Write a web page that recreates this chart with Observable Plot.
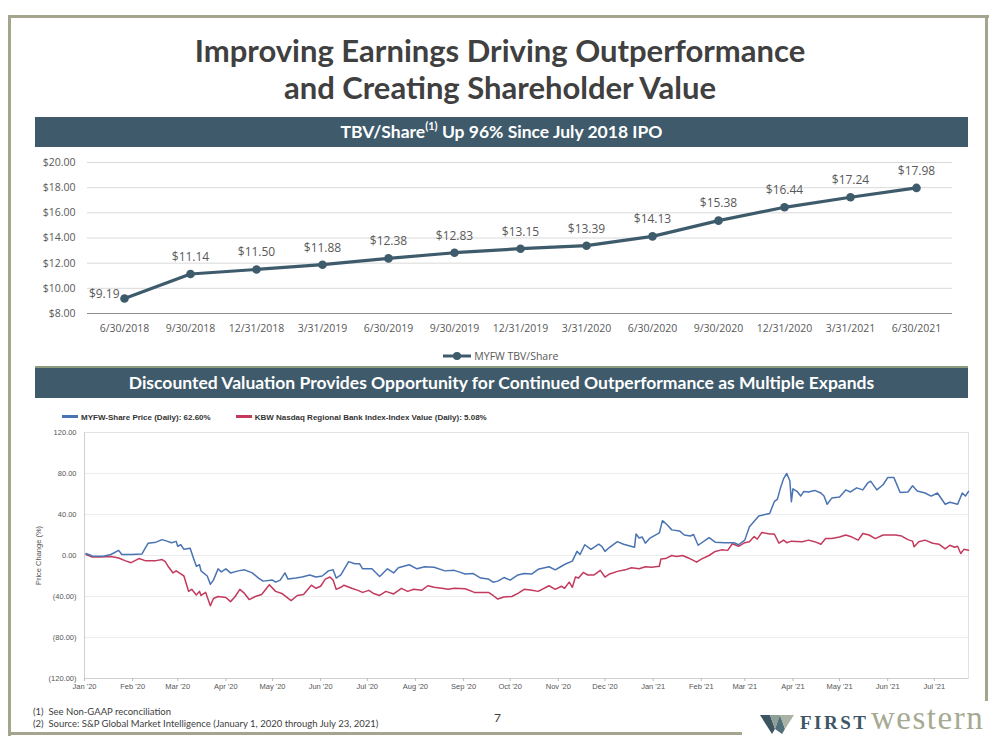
<!DOCTYPE html>
<html><head><meta charset="utf-8">
<script src="https://cdn.jsdelivr.net/npm/d3@7"></script>
<script src="https://cdn.jsdelivr.net/npm/@observablehq/plot@0.6"></script>
<style>
html,body{margin:0;padding:0;background:#fff;}
#slide{position:relative;width:1000px;height:750px;overflow:hidden;font-family:Lato,"Open Sans",sans-serif;background:#fff;}
.abs{position:absolute;}
.line{position:absolute;background:#a4a58c;}
.title{left:0;width:1000px;text-align:center;font-weight:700;font-size:31px;line-height:37px;color:#404040;top:32px;}
.banner{left:35px;width:933px;height:30px;background:#3e5a6b;color:#fff;font-weight:700;font-size:17.5px;line-height:30px;text-align:center;}
.banner sup{font-size:11px;line-height:0;position:relative;top:-1px;}
.leg1{top:349px;left:0;width:1000px;text-align:center;font-family:"Open Sans";font-size:10.5px;color:#595959;}
.leg2{top:413px;left:62px;font-family:"Liberation Sans",Arial,sans-serif;font-size:8px;font-weight:700;color:#333;white-space:nowrap;}
.sw{display:inline-block;width:16px;height:3px;vertical-align:middle;margin-right:3px;position:relative;top:-1px;}
.foot{left:33px;font-family:Lato,sans-serif;font-size:9.5px;color:#404040;white-space:nowrap;}
</style></head>
<body><div id="slide">
  <div class="line" style="left:8px;top:15px;width:981px;height:3px;"></div>
  <div class="line" style="left:8px;top:15px;width:3px;height:721px;"></div>
  <div class="line" style="left:985px;top:15px;width:3px;height:686px;"></div>
  <div class="line" style="left:8px;top:732px;width:734px;height:3px;"></div>

  <div class="abs title">Improving Earnings Driving Outperformance<br>and Creating Shareholder Value</div>
  <div class="abs banner" style="top:117px;">TBV/Share<sup>(1)</sup> Up 96% Since July 2018 IPO</div>
  <div id="top" class="abs" style="left:0;top:150px;"></div>
  <div class="abs leg1"><svg width="30" height="10" style="vertical-align:middle;position:relative;top:-1px;"><line x1="1" y1="5" x2="29" y2="5" stroke="#3e5b6c" stroke-width="3"/><circle cx="15" cy="5" r="4" fill="#3e5b6c"/></svg> MYFW TBV/Share</div>
  <div class="abs" style="left:35px;top:366px;width:933px;height:2px;background:#8d9b7e;"></div>
  <div class="abs banner" style="top:368px;">Discounted Valuation Provides Opportunity for Continued Outperformance as Multiple Expands</div>
  <div class="abs leg2"><span class="sw" style="background:#4a73b2"></span>MYFW-Share Price (Daily): 62.60%<span style="display:inline-block;width:25px"></span><span class="sw" style="background:#c33a5d"></span>KBW Nasdaq Regional Bank Index-Index Value (Daily): 5.08%</div>
  <div id="bottom" class="abs" style="left:0;top:400px;"></div>

  <div class="abs foot" style="top:706px;">(1)&nbsp; See Non-GAAP reconciliation</div>
  <div class="abs foot" style="top:718px;">(2)&nbsp; Source: S&amp;P Global Market Intelligence (January 1, 2020 through July 23, 2021)</div>
  <div class="abs" style="left:494px;top:710px;font-family:Lato,sans-serif;font-size:12px;color:#404040;">7</div>

  <svg class="abs" style="left:758px;top:712px;" width="40" height="24">
    <polygon points="2,3 12,3 17,17 14,22" fill="#3c5560"/>
    <polygon points="12,3 22,3 17,17" fill="#8f9f95"/>
    <polygon points="17,17 22,3 27,17 24,22" fill="#52707a"/>
    <polygon points="22,3 36,3 27,17" fill="#a9b2a4"/>
  </svg>
  <div class="abs" style="left:800px;top:712px;font-family:'Liberation Serif',serif;font-weight:700;font-size:19px;letter-spacing:2.5px;color:#3d5565;">FIRST</div>
  <div class="abs" style="left:871px;top:700px;font-family:'Liberation Serif',serif;font-size:33px;letter-spacing:1.5px;color:#a7aa93;">western</div>
</div>
<script>
// ---------- Top chart data ----------
const tbvDates = ["6/30/2018","9/30/2018","12/31/2018","3/31/2019","6/30/2019","9/30/2019","12/31/2019","3/31/2020","6/30/2020","9/30/2020","12/31/2020","3/31/2021","6/30/2021"];
const tbvValues = [9.19, 11.14, 11.50, 11.88, 12.38, 12.83, 13.15, 13.39, 14.13, 15.38, 16.44, 17.24, 17.98];
const tbvTicks = [8, 10, 12, 14, 16, 18, 20];

// ---------- Bottom chart data (price change %) ----------
const myfwDaily = [
["2020-01-02",2],["2020-01-06",-0.5],["2020-01-13",-0.8],["2020-01-18",1],["2020-01-23",5],["2020-01-25",1],["2020-01-31",1],["2020-02-07",1.5],["2020-02-09",7],["2020-02-11",12],["2020-02-16",13],["2020-02-20",15.5],["2020-02-23",14],["2020-02-26",12.5],["2020-02-29",13.8],["2020-03-01",9],["2020-03-03",10.5],["2020-03-05",6],["2020-03-09",7],["2020-03-11",-2],["2020-03-13",-10.5],["2020-03-15",-9],["2020-03-16",-15],["2020-03-20",-20],["2020-03-22",-28],["2020-03-24",-24],["2020-03-27",-13],["2020-03-29",-16],["2020-04-01",-13],["2020-04-04",-17],["2020-04-09",-15],["2020-04-13",-14],["2020-04-18",-17],["2020-04-22",-22],["2020-04-25",-25],["2020-05-01",-24],["2020-05-03",-26],["2020-05-06",-24],["2020-05-09",-17],["2020-05-11",-23],["2020-05-16",-22],["2020-05-20",-21],["2020-05-25",-19],["2020-05-29",-21],["2020-06-02",-20],["2020-06-06",-15],["2020-06-09",-14],["2020-06-11",-22],["2020-06-14",-19],["2020-06-19",-6],["2020-06-23",-8],["2020-06-26",-8],["2020-06-28",-13],["2020-07-04",-13],["2020-07-09",-20.5],["2020-07-14",-13],["2020-07-18",-17],["2020-07-21",-12],["2020-07-28",-9],["2020-08-02",-13],["2020-08-07",-11],["2020-08-13",-11.5],["2020-08-20",-15],["2020-08-26",-14.5],["2020-08-29",-16],["2020-09-02",-18],["2020-09-07",-17.5],["2020-09-12",-22],["2020-09-17",-23],["2020-09-20",-26],["2020-09-23",-25],["2020-09-27",-21.5],["2020-10-01",-24],["2020-10-06",-19],["2020-10-10",-17.5],["2020-10-15",-18],["2020-10-19",-13.5],["2020-10-26",-11],["2020-10-30",-14],["2020-11-03",-10.5],["2020-11-06",-8],["2020-11-10",-5.5],["2020-11-13",4],["2020-11-15",1],["2020-11-18",10.5],["2020-11-22",6],["2020-11-27",11],["2020-11-29",9],["2020-12-01",4],["2020-12-04",8],["2020-12-09",13.5],["2020-12-13",11],["2020-12-20",8],["2020-12-21",21],["2020-12-23",17],["2020-12-25",18],["2020-12-27",12],["2020-12-30",17],["2021-01-05",22],["2021-01-07",34],["2021-01-10",30],["2021-01-13",25],["2021-01-18",24],["2021-01-21",20],["2021-01-25",19],["2021-01-27",20.5],["2021-01-30",10],["2021-02-06",17.5],["2021-02-10",13],["2021-02-16",12.5],["2021-02-22",12.5],["2021-02-25",10.5],["2021-03-01",15],["2021-03-04",28],["2021-03-10",38.5],["2021-03-14",40],["2021-03-17",41],["2021-03-20",52.5],["2021-03-22",55],["2021-03-24",66],["2021-03-26",75],["2021-03-28",80],["2021-03-30",73],["2021-03-31",52.5],["2021-04-01",65],["2021-04-04",62],["2021-04-06",58],["2021-04-08",62.5],["2021-04-11",62],["2021-04-15",63.5],["2021-04-19",61],["2021-04-21",58],["2021-04-23",50],["2021-04-26",56],["2021-05-01",57],["2021-05-05",64],["2021-05-08",62],["2021-05-12",66],["2021-05-16",64],["2021-05-19",70.5],["2021-05-21",72.5],["2021-05-25",64],["2021-05-29",69],["2021-06-01",76],["2021-06-05",76],["2021-06-09",61.5],["2021-06-14",62],["2021-06-17",68],["2021-06-20",63],["2021-06-25",61],["2021-06-29",58],["2021-07-03",61],["2021-07-08",50],["2021-07-11",52],["2021-07-16",50],["2021-07-19",61],["2021-07-21",58],["2021-07-23",62.6]
];
const kbwDaily = [
["2020-01-02",1],["2020-01-06",-1.5],["2020-01-11",-1.5],["2020-01-18",-1],["2020-01-23",-2.5],["2020-01-27",-5],["2020-01-31",-7],["2020-02-05",-3],["2020-02-09",-5],["2020-02-16",-5],["2020-02-20",-4],["2020-02-22",-6],["2020-02-24",-11],["2020-02-27",-17],["2020-02-29",-15],["2020-03-03",-18],["2020-03-05",-20],["2020-03-07",-30],["2020-03-08",-35],["2020-03-10",-33],["2020-03-13",-38.5],["2020-03-15",-35],["2020-03-16",-39],["2020-03-19",-36],["2020-03-22",-49],["2020-03-24",-42],["2020-03-27",-40],["2020-04-01",-41],["2020-04-04",-45],["2020-04-07",-40],["2020-04-10",-33],["2020-04-13",-37],["2020-04-16",-43],["2020-04-20",-40],["2020-04-24",-38],["2020-04-29",-28.5],["2020-05-03",-35],["2020-05-07",-37],["2020-05-13",-44],["2020-05-17",-39],["2020-05-21",-38],["2020-05-26",-29],["2020-05-29",-32],["2020-06-01",-30],["2020-06-04",-23],["2020-06-07",-21],["2020-06-09",-24],["2020-06-11",-33],["2020-06-14",-31],["2020-06-16",-29],["2020-06-21",-32],["2020-06-25",-34],["2020-06-28",-36],["2020-07-02",-34],["2020-07-05",-37],["2020-07-09",-39],["2020-07-13",-35],["2020-07-18",-37.5],["2020-07-23",-32],["2020-07-27",-35],["2020-07-31",-33],["2020-08-05",-34],["2020-08-09",-29.5],["2020-08-13",-31],["2020-08-18",-32],["2020-08-22",-33],["2020-08-26",-32],["2020-09-02",-32.5],["2020-09-08",-36],["2020-09-12",-36],["2020-09-17",-36],["2020-09-20",-39],["2020-09-23",-42.5],["2020-09-27",-40.5],["2020-10-02",-40],["2020-10-06",-37],["2020-10-10",-33],["2020-10-15",-34],["2020-10-19",-35],["2020-10-26",-29.5],["2020-10-30",-33],["2020-11-03",-30],["2020-11-05",-32],["2020-11-08",-26],["2020-11-10",-31],["2020-11-12",-21],["2020-11-14",-22],["2020-11-17",-16.5],["2020-11-20",-19],["2020-11-24",-19],["2020-11-28",-14.5],["2020-12-01",-21],["2020-12-04",-18],["2020-12-09",-15.5],["2020-12-14",-14],["2020-12-18",-12],["2020-12-23",-13],["2020-12-27",-11],["2020-12-31",-11.5],["2021-01-05",-10.5],["2021-01-06",-3.5],["2021-01-09",-3],["2021-01-13",0],["2021-01-16",-1],["2021-01-20",0],["2021-01-23",-2],["2021-01-26",-4],["2021-01-29",-6.5],["2021-02-01",-3.5],["2021-02-06",0],["2021-02-10",4],["2021-02-14",5.5],["2021-02-18",5],["2021-02-21",11.5],["2021-02-25",9],["2021-03-01",12.5],["2021-03-04",13.5],["2021-03-07",18.5],["2021-03-09",16],["2021-03-12",22.5],["2021-03-17",21],["2021-03-20",21],["2021-03-23",12],["2021-03-26",15],["2021-03-28",12.5],["2021-03-31",14],["2021-04-07",13.5],["2021-04-11",15],["2021-04-15",13.5],["2021-04-19",11],["2021-04-22",16.5],["2021-04-26",16.5],["2021-05-01",18],["2021-05-05",20],["2021-05-09",18],["2021-05-13",15],["2021-05-16",21.5],["2021-05-20",20],["2021-05-24",16.5],["2021-05-29",20],["2021-06-02",20],["2021-06-06",20],["2021-06-10",19],["2021-06-14",15.5],["2021-06-17",14],["2021-06-18",8.5],["2021-06-21",13.5],["2021-06-25",15],["2021-06-30",12],["2021-07-04",11],["2021-07-08",6.5],["2021-07-11",10],["2021-07-14",8],["2021-07-16",9],["2021-07-18",2],["2021-07-20",6],["2021-07-23",5.08]
];
const pctTicks = [-120, -80, -40, 0, 40, 80, 120];
const monthTicks = ["2020-01-01","2020-02-01","2020-03-01","2020-04-01","2020-05-01","2020-06-01","2020-07-01","2020-08-01","2020-09-01","2020-10-01","2020-11-01","2020-12-01","2021-01-01","2021-02-01","2021-03-01","2021-04-01","2021-05-01","2021-06-01","2021-07-01"];

// ---------- Top chart ----------
const tbv = tbvDates.map((d, i) => ({date: d, value: tbvValues[i], first: i === 0}));
const money = v => "$" + v.toFixed(2);
const topChart = Plot.plot({
  width: 1000, height: 193,
  marginLeft: 87, marginRight: 48, marginTop: 12, marginBottom: 30,
  style: {fontFamily: "'Open Sans', sans-serif", fontSize: "10.5px", color: "#595959", background: "transparent", overflow: "visible"},
  x: {type: "point", domain: tbvDates, label: null},
  y: {domain: [8, 20], label: null},
  marks: [
    Plot.gridY(tbvTicks.filter(t => t > 8), {stroke: "#d9d9d9", strokeOpacity: 1}),
    Plot.ruleY([8], {stroke: "#8c8c8c", strokeWidth: 1}),
    Plot.axisY(tbvTicks, {tickSize: 0, tickPadding: 12, tickFormat: money, label: null, fill: "#595959"}),
    Plot.axisX({tickSize: 0, tickPadding: 11, label: null, fill: "#595959"}),
    Plot.line(tbv, {x: "date", y: "value", stroke: "#3e5b6c", strokeWidth: 3.2}),
    Plot.dot(tbv, {x: "date", y: "value", r: 4.3, fill: "#3e5b6c"}),
    Plot.text(tbv.filter(d => !d.first), {x: "date", y: "value", text: d => money(d.value), dy: -17, fill: "#595959", fontSize: 12}),
    Plot.text(tbv.filter(d => d.first), {x: "date", y: "value", text: d => money(d.value), dx: -5, dy: -4, textAnchor: "end", fill: "#595959", fontSize: 12})
  ]
});
document.getElementById("top").appendChild(topChart);

// ---------- Bottom chart ----------
const parse = d3.utcParse("%Y-%m-%d");
const myfw = myfwDaily.map(([d, v]) => ({date: parse(d), value: v}));
const kbw = kbwDaily.map(([d, v]) => ({date: parse(d), value: v}));
const pctFmt = v => v < 0 ? "(" + (-v).toFixed(2) + ")" : v.toFixed(2);
const bottomChart = Plot.plot({
  width: 1000, height: 300,
  marginLeft: 84, marginRight: 32, marginTop: 32, marginBottom: 22,
  style: {fontFamily: "'Liberation Sans', Arial, sans-serif", fontSize: "7.5px", color: "#555", background: "transparent", overflow: "visible"},
  x: {type: "utc", domain: [parse("2020-01-01"), parse("2021-07-23")], label: null},
  y: {domain: [-120, 120], label: null},
  marks: [
    Plot.gridY(pctTicks, {stroke: "#ececec", strokeOpacity: 1}),
    Plot.frame({stroke: "#e2e2e2"}),
    Plot.ruleX([parse("2020-01-01")], {stroke: "#cfcfcf"}),
    Plot.ruleY([-120], {stroke: "#cfcfcf"}),
    Plot.axisY(pctTicks, {tickSize: 0, tickPadding: 8, tickFormat: pctFmt, fill: "#555", label: "Price Change (%)", labelAnchor: "center", labelOffset: 49, labelArrow: "none"}),
    Plot.axisX(monthTicks.map(parse), {tickSize: 3, tickPadding: 2, stroke: "#bbb", fill: "#555", tickFormat: d3.utcFormat("%b '%y"), label: null}),
    Plot.line(kbw, {x: "date", y: "value", stroke: "#c33a5d", strokeWidth: 1.5}),
    Plot.line(myfw, {x: "date", y: "value", stroke: "#4a73b2", strokeWidth: 1.5})
  ]
});
document.getElementById("bottom").appendChild(bottomChart);
</script>
</body></html>
